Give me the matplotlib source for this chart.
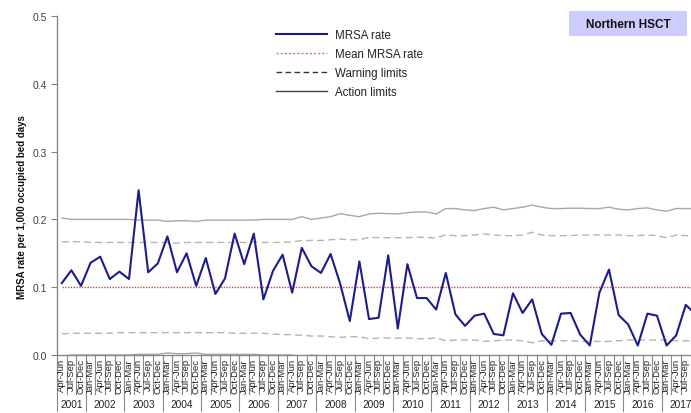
import matplotlib
matplotlib.use('Agg')
import matplotlib.pyplot as plt
import matplotlib.transforms as mtransforms
from matplotlib.lines import Line2D
from matplotlib.patches import Rectangle
from matplotlib.ticker import FormatStrFormatter

plt.rcParams['font.family'] = ['Liberation Sans', 'DejaVu Sans']

# ---------------- data ----------------
years = [2001, 2002, 2003, 2004, 2005, 2006, 2007, 2008, 2009,
         2010, 2011, 2012, 2013, 2014, 2015, 2016, 2017]
quarters_per_year = [3, 4, 4, 4, 4, 4, 4, 4, 4, 4, 4, 4, 4, 4, 4, 4, 4]
quarter_names = ["Jan-Mar", "Apr-Jun", "Jul-Sep", "Oct-Dec"]

mrsa_rate = [0.106, 0.125, 0.102,
             0.136, 0.145, 0.112, 0.123,
             0.112, 0.243, 0.122, 0.135,
             0.175, 0.122, 0.150, 0.102,
             0.143, 0.090, 0.113, 0.179,
             0.134, 0.179, 0.082, 0.124,
             0.148, 0.092, 0.158, 0.131,
             0.121, 0.149, 0.105, 0.050,
             0.138, 0.053, 0.055, 0.147,
             0.039, 0.134, 0.084, 0.084,
             0.067, 0.121, 0.060, 0.043,
             0.058, 0.061, 0.031, 0.029,
             0.091, 0.062, 0.082, 0.031,
             0.015, 0.061, 0.062, 0.030,
             0.014, 0.092, 0.126, 0.059,
             0.045, 0.014, 0.061, 0.058,
             0.014, 0.029, 0.074, 0.060]

mean_rate = [0.1] * 67

upper_action = [0.202, 0.200, 0.200,
                0.200, 0.200, 0.200, 0.200,
                0.200, 0.199, 0.199, 0.199,
                0.197, 0.198, 0.198, 0.197,
                0.199, 0.199, 0.199, 0.199,
                0.199, 0.199, 0.200, 0.200,
                0.200, 0.200, 0.204, 0.200,
                0.202, 0.204, 0.2085, 0.206,
                0.204, 0.208, 0.209, 0.2085,
                0.208, 0.210, 0.211, 0.211,
                0.208, 0.216, 0.216, 0.214,
                0.213, 0.216, 0.218, 0.214,
                0.216, 0.218, 0.221, 0.218,
                0.216, 0.216, 0.2165, 0.2165,
                0.216, 0.216, 0.218, 0.215,
                0.214, 0.216, 0.217, 0.214,
                0.212, 0.216, 0.216, 0.216]

upper_warning = [0.167, 0.167, 0.167,
                 0.166, 0.166, 0.166, 0.166,
                 0.166, 0.166, 0.166, 0.166,
                 0.166, 0.165, 0.166, 0.166,
                 0.166, 0.166, 0.166, 0.166,
                 0.166, 0.167, 0.166, 0.166,
                 0.166, 0.167, 0.1686, 0.169,
                 0.169, 0.170, 0.171, 0.170,
                 0.170, 0.1735, 0.173, 0.173,
                 0.173, 0.173, 0.174, 0.173,
                 0.173, 0.177, 0.176, 0.176,
                 0.177, 0.1785, 0.177, 0.176,
                 0.176, 0.177, 0.181, 0.177,
                 0.176, 0.176, 0.176, 0.177,
                 0.177, 0.177, 0.177, 0.177,
                 0.176, 0.176, 0.177, 0.176,
                 0.173, 0.177, 0.176, 0.176]

lower_warning = [0.031, 0.032, 0.032,
                 0.032, 0.032, 0.032, 0.033,
                 0.033, 0.033, 0.033, 0.033,
                 0.033, 0.033, 0.033, 0.033,
                 0.033, 0.033, 0.033, 0.032,
                 0.032, 0.032, 0.032, 0.031,
                 0.030, 0.030, 0.029, 0.028,
                 0.028, 0.027, 0.026, 0.027,
                 0.027, 0.024, 0.025, 0.025,
                 0.025, 0.025, 0.024, 0.024,
                 0.025, 0.021, 0.022, 0.022,
                 0.022, 0.020, 0.021, 0.022,
                 0.022, 0.021, 0.018, 0.021,
                 0.021, 0.021, 0.021, 0.020,
                 0.020, 0.020, 0.020, 0.021,
                 0.022, 0.022, 0.022, 0.022,
                 0.022, 0.021, 0.021, 0.021]

lower_action = [-0.002, 0.000, 0.000,
                0.000, 0.000, 0.000, 0.000,
                0.000, 0.001, 0.001, 0.001,
                0.003, 0.002, 0.002, 0.003,
                0.001, 0.001, 0.001, 0.001,
                0.001, 0.001, 0.000, 0.000,
                0.000, 0.000, -0.004, 0.000,
                -0.002, -0.004, -0.0085, -0.006,
                -0.004, -0.008, -0.009, -0.0085,
                -0.008, -0.010, -0.011, -0.011,
                -0.008, -0.016, -0.016, -0.014,
                -0.013, -0.016, -0.018, -0.014,
                -0.016, -0.018, -0.021, -0.018,
                -0.016, -0.016, -0.0165, -0.0165,
                -0.016, -0.016, -0.018, -0.015,
                -0.014, -0.016, -0.017, -0.014,
                -0.012, -0.016, -0.016, -0.016]

# quarter tick labels
quarter_labels = []
for nq in quarters_per_year:
    quarter_labels += quarter_names[4 - nq:]

n = len(mrsa_rate)
xs = list(range(n))

# ---------------- figure ----------------
W, H = 691, 414
fig = plt.figure(figsize=(W / 100, H / 100), dpi=100)
cat_w = 9.6
ax = fig.add_axes([57 / W, 58 / H, cat_w * n / W, 339 / H])

ax.plot(xs, upper_action, color='#a8a8a8', lw=1.0, zorder=2)
ax.plot(xs, lower_action, color='#a8a8a8', lw=1.0, zorder=2)
ax.plot(xs, upper_warning, color='#b4b4b4', lw=1.0, ls=(0, (5, 3)), zorder=2)
ax.plot(xs, lower_warning, color='#b4b4b4', lw=1.0, ls=(0, (5, 3)), zorder=2)
ax.plot(xs, mean_rate, color='#b5524f', lw=1.0, ls=(0, (1, 1)), zorder=3)
ax.plot(xs, mrsa_rate, color='#1c1c8f', lw=1.5, zorder=4)

ax.set_xlim(-0.5, n - 0.5)
ax.set_ylim(0, 0.5)
ax.set_yticks([0.0, 0.1, 0.2, 0.3, 0.4, 0.5])
ax.yaxis.set_major_formatter(FormatStrFormatter('%.1f'))
ax.tick_params(axis='y', direction='out', length=4, width=0.8, color='#808080',
               labelsize=7.5, labelcolor='#404040', pad=3)
ax.set_xticks([])
for s in ['top', 'right']:
    ax.spines[s].set_visible(False)
for s in ['left', 'bottom']:
    ax.spines[s].set_color('#888888')
    ax.spines[s].set_linewidth(1.0)

trans = mtransforms.blended_transform_factory(ax.transData, ax.transAxes)
q_bottom = -39 / 339
y_bottom = -56 / 339
for k in range(n + 1):
    ax.plot([k - 0.5, k - 0.5], [0, q_bottom], transform=trans, clip_on=False,
            color='#888888', lw=0.8)
x_visible_max = (W - 57) / cat_w - 0.5  # last category centre that fits in the picture
for i, lab in enumerate(quarter_labels):
    if i > x_visible_max:
        continue
    ax.text(i, -3 / 339, lab, transform=trans, rotation=90, ha='center', va='top',
            fontsize=6.8, color='#222222', clip_on=False)

start = 0
for yr, nq in zip(years, quarters_per_year):
    ax.plot([start - 0.5, start - 0.5], [0, y_bottom], transform=trans,
            clip_on=False, color='#888888', lw=0.8)
    ax.text(start - 0.5 + nq / 2, -49 / 339, str(yr), transform=trans,
            ha='center', va='center', fontsize=7.3, color='#222222', clip_on=False)
    start += nq
ax.plot([start - 0.5, start - 0.5], [0, y_bottom], transform=trans,
        clip_on=False, color='#888888', lw=0.8)

# y label
fig.text(22 / W, 1 - 207 / H, "MRSA rate per 1,000 occupied bed days", rotation=90,
         ha='center', va='center', fontsize=7, fontweight='bold', color='#111111')

# legend
handles = [
    Line2D([], [], color='#1c1c8f', lw=1.5),
    Line2D([], [], color='#c08080', lw=1.0, ls=(0, (1.5, 1.5))),
    Line2D([], [], color='#333333', lw=1.0, ls=(0, (4, 2.5))),
    Line2D([], [], color='#444444', lw=1.0),
]
labels = ["MRSA rate", "Mean MRSA rate", "Warning limits", "Action limits"]
fig.legend(handles, labels, loc='upper left', bbox_to_anchor=(276 / W, 1 - 30 / H),
           bbox_transform=fig.transFigure, frameon=False, fontsize=8.3,
           handlelength=4.4, handletextpad=0.7, labelspacing=0.62,
           borderpad=0, borderaxespad=0, labelcolor='#222222')

# title box
fig.patches.append(Rectangle((569 / W, 1 - 37 / H), 118 / W, 25 / H,
                             transform=fig.transFigure, facecolor='#ccccff',
                             edgecolor='none', zorder=0))
fig.text(628 / W, 1 - 24.5 / H, "Northern HSCT", ha='center', va='center',
         fontsize=8.5, fontweight='bold', color='#111111')

fig.savefig('out.png', dpi=100)
